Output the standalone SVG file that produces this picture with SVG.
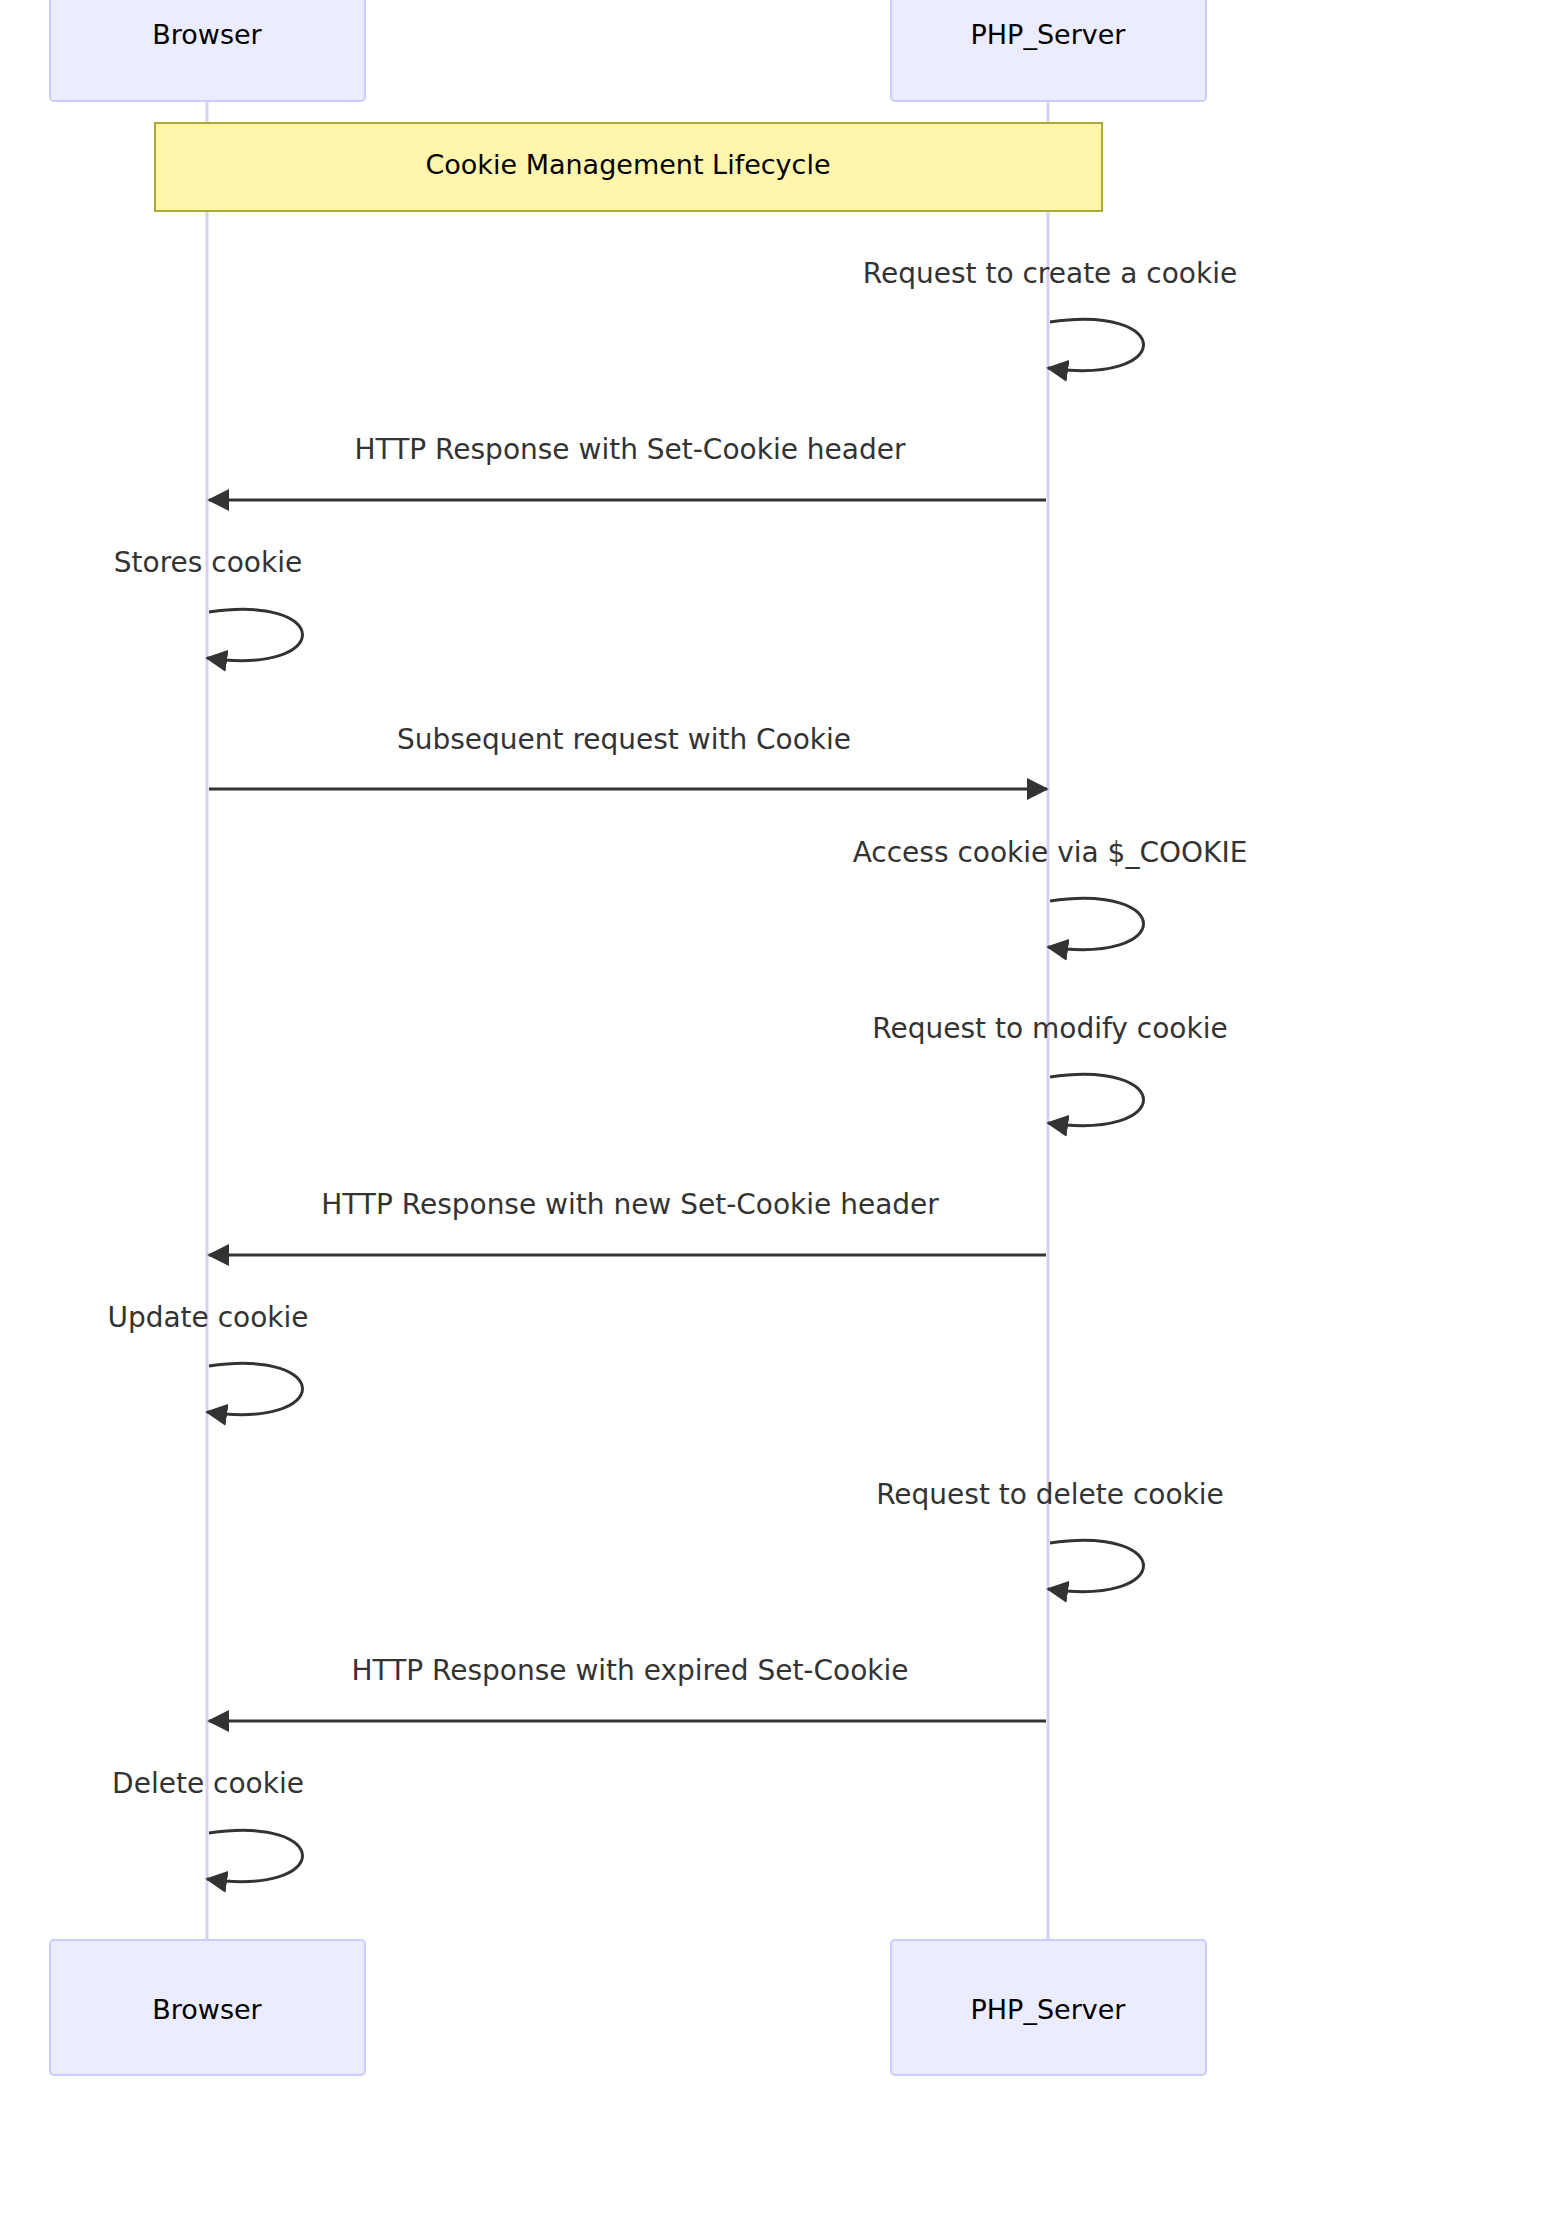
<svg xmlns="http://www.w3.org/2000/svg" width="1544" height="2229" viewBox="0 0 1544 2229">
<style>
.actor{fill:#ECECFF;stroke:#CCCCFF;stroke-width:2}
.life{stroke:#D8CFF2;stroke-width:3}
.at{font-family:"DejaVu Sans",sans-serif;font-size:27px;fill:#000;text-anchor:middle;dominant-baseline:central}
.ml{font-family:"DejaVu Sans",sans-serif;font-size:28px;fill:#333;text-anchor:middle;dominant-baseline:central}
.msg{stroke:#333;stroke-width:3;fill:none;marker-end:url(#ah)}
</style>
<defs>
<marker id="ah" viewBox="0 0 12 12" refX="11" refY="6" markerWidth="22" markerHeight="22" markerUnits="userSpaceOnUse" orient="auto">
<path d="M0,0 L12,6 L0,12 z" fill="#333"/>
</marker>
</defs>
<rect width="1544" height="2229" fill="#fff"/>
<g id="lifelines">
<line class="life" x1="207" y1="101" x2="207" y2="1940"/>
<line class="life" x1="1048" y1="101" x2="1048" y2="1940"/>
</g>
<g id="browser-top"><rect class="actor" x="50" y="-5" width="315" height="106" rx="4"/><text class="at" x="207" y="34">Browser</text></g>
<g id="server-top"><rect class="actor" x="891" y="-5" width="315" height="106" rx="4"/><text class="at" x="1048" y="34">PHP_Server</text></g>
<g id="browser-bottom"><rect class="actor" x="50" y="1940" width="315" height="135" rx="4"/><text class="at" x="207" y="2009">Browser</text></g>
<g id="server-bottom"><rect class="actor" x="891" y="1940" width="315" height="135" rx="4"/><text class="at" x="1048" y="2009">PHP_Server</text></g>
<g id="note"><rect x="155" y="123" width="947" height="88" fill="#FFF5AD" stroke="#AAAA33" stroke-width="2"/><text class="at" x="628" y="164">Cookie Management Lifecycle</text></g>
<g id="connectors">
<path class="msg" d="M1050,322 C1175,304 1175,386 1048,368"/>
<text class="ml" x="1050" y="273">Request to create a cookie</text>
<line class="msg" x1="1046" y1="500" x2="209" y2="500"/>
<text class="ml" x="630" y="449">HTTP Response with Set-Cookie header</text>
<path class="msg" d="M209,612 C334,594 334,676 207,658"/>
<text class="ml" x="208" y="562">Stores cookie</text>
<line class="msg" x1="209" y1="789" x2="1047" y2="789"/>
<text class="ml" x="624" y="739">Subsequent request with Cookie</text>
<path class="msg" d="M1050,901 C1175,883 1175,965 1048,947"/>
<text class="ml" x="1050" y="852">Access cookie via $_COOKIE</text>
<path class="msg" d="M1050,1077 C1175,1059 1175,1141 1048,1123"/>
<text class="ml" x="1050" y="1028">Request to modify cookie</text>
<line class="msg" x1="1046" y1="1255" x2="209" y2="1255"/>
<text class="ml" x="630" y="1204">HTTP Response with new Set-Cookie header</text>
<path class="msg" d="M209,1366 C334,1348 334,1430 207,1412"/>
<text class="ml" x="208" y="1317">Update cookie</text>
<path class="msg" d="M1050,1543 C1175,1525 1175,1607 1048,1589"/>
<text class="ml" x="1050" y="1494">Request to delete cookie</text>
<line class="msg" x1="1046" y1="1721" x2="209" y2="1721"/>
<text class="ml" x="630" y="1670">HTTP Response with expired Set-Cookie</text>
<path class="msg" d="M209,1833 C334,1815 334,1897 207,1879"/>
<text class="ml" x="208" y="1783">Delete cookie</text>
</g>
</svg>
